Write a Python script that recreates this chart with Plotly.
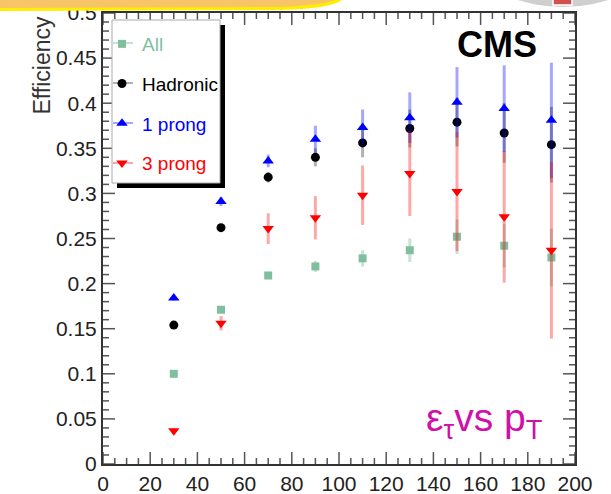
import plotly.graph_objects as go

# ---------------- data ----------------
pt = [30, 50, 70, 90, 110, 130, 150, 170, 190]

eff_all = [0.100, 0.171, 0.209, 0.219, 0.228, 0.237, 0.252, 0.242, 0.229]
err_all = [0.002, 0.003, 0.004, 0.006, 0.009, 0.013, 0.019, 0.024, 0.032]

eff_had = [0.154, 0.262, 0.318, 0.340, 0.356, 0.372, 0.379, 0.367, 0.354]
err_had = [0.003, 0.004, 0.006, 0.010, 0.016, 0.021, 0.027, 0.033, 0.042]

eff_1p = [0.184, 0.291, 0.336, 0.360, 0.373, 0.384, 0.401, 0.394, 0.381]
err_1p = [0.003, 0.005, 0.007, 0.015, 0.020, 0.028, 0.039, 0.048, 0.064]

eff_3p = [0.037, 0.156, 0.261, 0.273, 0.298, 0.322, 0.302, 0.274, 0.237]
err_3p = [0.003, 0.008, 0.017, 0.024, 0.033, 0.047, 0.066, 0.073, 0.098]

x_major = [0, 20, 40, 60, 80, 100, 120, 140, 160, 180, 200]
y_major = [0, 0.05, 0.1, 0.15, 0.2, 0.25, 0.3, 0.35, 0.4, 0.45, 0.5]
y_tick_text = ["0", "0.05", "0.1", "0.15", "0.2", "0.25", "0.3", "0.35", "0.4", "0.45", "0.5"]
x_minor_step = 5
y_minor_step = 0.01

# ---------------- layout geometry ----------------
W, H = 611, 494
L, R, T, B = 103, 575, 13, 464
FONT = "Liberation Sans, Arial, sans-serif"
PW, PH = R - L, B - T


def px(xp):
    return (xp - L) / PW


def py(yp):
    return (B - yp) / PH


series = [
    ("All", eff_all, err_all, "#7fbf9f", "square", 8, "rgba(127,191,159,0.45)"),
    ("Hadronic", eff_had, err_had, "#000000", "circle", 9, "rgba(0,0,0,0.30)"),
    ("1 prong", eff_1p, err_1p, "#0000ff", "triangle-up", 10, "rgba(0,0,255,0.35)"),
    ("3 prong", eff_3p, err_3p, "#ff0000", "triangle-down", 10, "rgba(255,0,0,0.35)"),
]
legend_rows = [43, 83, 123, 163]

fig = go.Figure()
for i, (name, y, e, col, sym, size, ecol) in enumerate(series):
    fig.add_trace(go.Scatter(
        x=pt, y=y, name=f"<span style='color:{col}'>{name}</span>", mode="markers",
        marker=dict(symbol=sym, size=size, color=col, line=dict(width=0)),
        error_y=dict(type="data", array=e, visible=True, color=ecol,
                     thickness=3, width=0),
        legendgroup=f"g{i}",
    ))

shapes = []

# ---- axis tick marks (ROOT style, inside, on all four sides) ----
TICK_COL = "#555555"
MAJ, MIN = 12, 6
xr = (0, 200)
yr = (0, 0.5)
n_xmin = int(round((xr[1] - xr[0]) / x_minor_step))
n_ymin = int(round((yr[1] - yr[0]) / y_minor_step))
for k in range(n_xmin + 1):
    v = xr[0] + k * x_minor_step
    ln = MAJ if any(abs(v - m) < 1e-9 for m in x_major) else MIN
    for base, sgn in ((0.0, 1), (1.0, -1)):
        shapes.append(dict(type="line", xref="x", yref="paper", x0=v, x1=v,
                           y0=base, y1=base + sgn * ln / PH,
                           line=dict(color=TICK_COL, width=1.5), layer="above"))
for k in range(n_ymin + 1):
    v = yr[0] + k * y_minor_step
    ln = MAJ if any(abs(v - m) < 1e-9 for m in y_major) else MIN
    for base, sgn in ((0.0, 1), (1.0, -1)):
        shapes.append(dict(type="line", xref="paper", yref="y", y0=v, y1=v,
                           x0=base, x1=base + sgn * ln / PW,
                           line=dict(color=TICK_COL, width=1.5), layer="above"))

# legend box with shadow
shapes.append(dict(type="rect", xref="paper", yref="paper",
                   x0=px(117), x1=px(225), y0=py(188), y1=py(25),
                   fillcolor="black", line=dict(width=0), layer="above"))
shapes.append(dict(type="rect", xref="paper", yref="paper",
                   x0=px(112), x1=px(220), y0=py(183), y1=py(20),
                   fillcolor="white", line=dict(color="#aaaaaa", width=1), layer="above"))
for (name, y, e, col, sym, size, ecol), yrow in zip(series, legend_rows):
    shapes.append(dict(type="line", xref="paper", yref="paper",
                       x0=px(113), x1=px(133), y0=py(yrow), y1=py(yrow),
                       line=dict(color=ecol, width=2), layer="above"))
# top banner decoration
yellow = "M {:.4f},{:.4f} L {:.4f},{:.4f} Q {:.4f},{:.4f} {:.4f},{:.4f} L {:.4f},{:.4f} Z".format(
    px(0), py(0), px(342), py(0), px(330), py(9), px(280), py(10), px(0), py(11))
orange = "M {:.4f},{:.4f} L {:.4f},{:.4f} Q {:.4f},{:.4f} {:.4f},{:.4f} L {:.4f},{:.4f} Z".format(
    px(0), py(0), px(335), py(0), px(320), py(6), px(270), py(7), px(0), py(8))
shapes.append(dict(type="path", xref="paper", yref="paper", path=yellow,
                   fillcolor="#ffee00", line=dict(width=0)))
shapes.append(dict(type="path", xref="paper", yref="paper", path=orange,
                   fillcolor="#f8c468", line=dict(width=0)))
# grey disc top right
shapes.append(dict(type="circle", xref="paper", yref="paper",
                   x0=px(563 - 148), x1=px(563 + 148), y0=py(-141 + 148), y1=py(-141 - 148),
                   fillcolor="#cfcfcf", line=dict(width=0)))
shapes.append(dict(type="rect", xref="paper", yref="paper",
                   x0=px(553), x1=px(572), y0=py(5), y1=py(-2),
                   fillcolor="#d05050", line=dict(color="white", width=1.5)))

annotations = [
    dict(text="Efficiency", xref="paper", yref="paper", x=px(42), y=py(14),
         xanchor="center", yanchor="top", textangle=-90, showarrow=False,
         font=dict(family=FONT, size=23, color="#333333")),
    dict(text="<b>CMS</b>", xref="paper", yref="paper", x=px(497), y=py(44),
         xanchor="center", yanchor="middle", showarrow=False,
         font=dict(family=FONT, size=36, color="black")),
    dict(text="ε<sub>τ</sub>vs p<sub>T</sub>", xref="paper", yref="paper",
         x=px(424), y=py(420), xanchor="left", yanchor="middle", showarrow=False,
         font=dict(family=FONT, size=39, color="#d010a8")),
]

fig.update_layout(
    width=W, height=H,
    margin=dict(l=L, r=W - R, t=T, b=H - B, pad=0, autoexpand=False),
    paper_bgcolor="white", plot_bgcolor="white",
    font=dict(family=FONT, color="#222222"),
    showlegend=True,
    legend=dict(x=px(102), y=py(25), xanchor="left", yanchor="top",
                bgcolor="rgba(0,0,0,0)", borderwidth=0,
                font=dict(family=FONT, size=19),
                traceorder="grouped", tracegroupgap=12,
                itemwidth=30),
    shapes=shapes,
    annotations=annotations,
)

fig.update_xaxes(
    range=list(xr), tickmode="array", tickvals=x_major,
    ticktext=[str(v) for v in x_major], ticks="",
    showline=True, linecolor="#333333", linewidth=2, mirror=True,
    showgrid=False, zeroline=False, automargin=False,
    tickfont=dict(family=FONT, size=21, color="#222222"),
)
fig.update_yaxes(
    range=list(yr), tickmode="array", tickvals=y_major, ticktext=y_tick_text,
    ticks="",
    showline=True, linecolor="#333333", linewidth=2, mirror=True,
    showgrid=False, zeroline=False, automargin=False,
    tickfont=dict(family=FONT, size=21, color="#222222"),
)

fig.write_html("out.html", post_script="document.body.style.margin='0';",
               config={"displayModeBar": False})
